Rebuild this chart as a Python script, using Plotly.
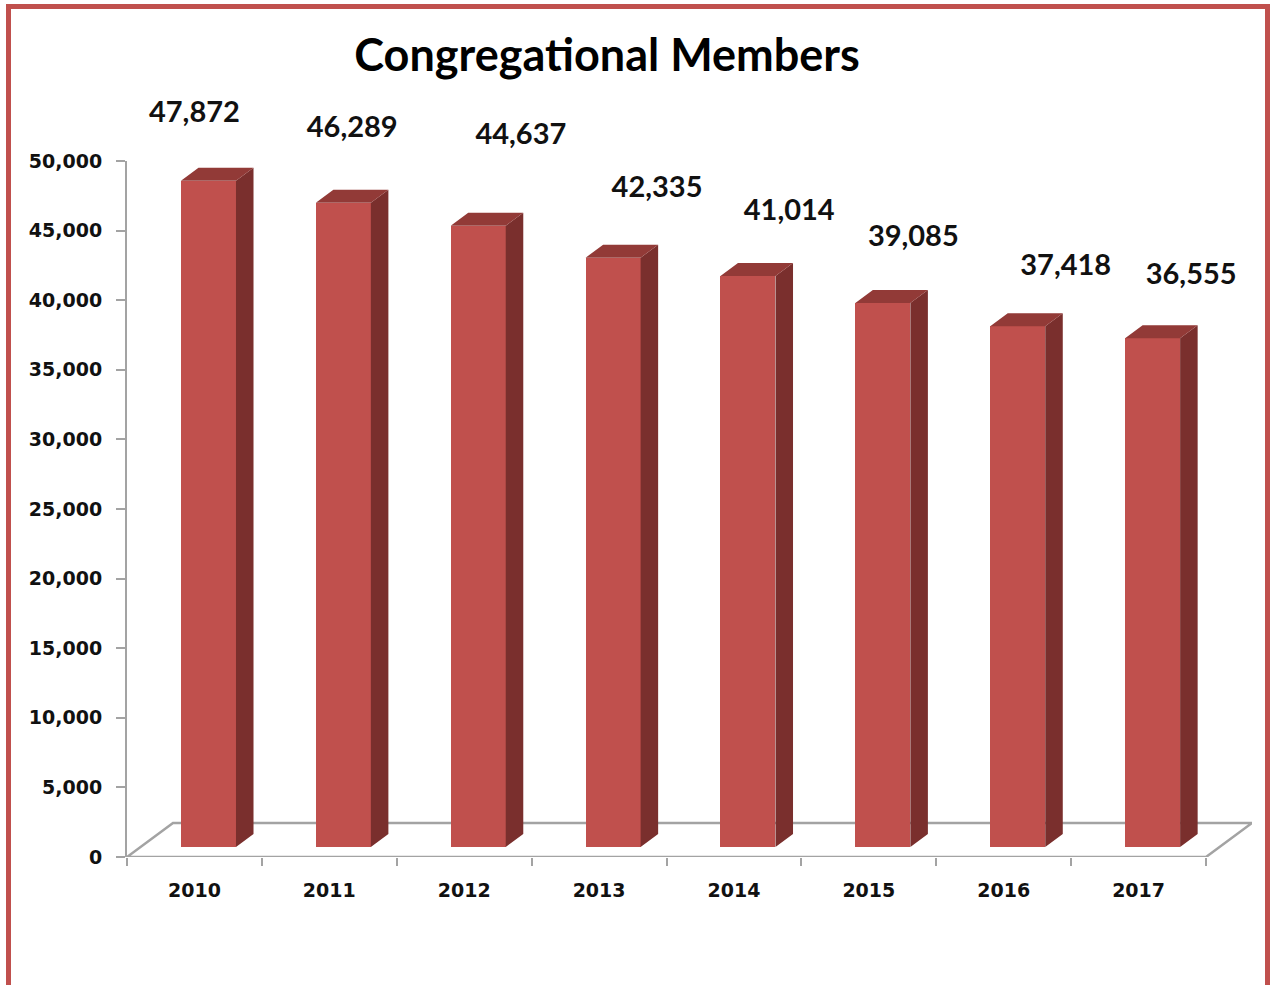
import plotly.graph_objects as go

# Membership counts per year
years = ["2010", "2011", "2012", "2013", "2014", "2015", "2016", "2017"]
members = [47872, 46289, 44637, 42335, 41014, 39085, 37418, 36555]

# Hand-placed label nudges (x in category units, y in members above the bar)
label_dx = [0.00, 0.17, 0.42, 0.43, 0.41, 0.33, 0.46, 0.39]
label_dy = [5450, 5950, 7100, 5600, 5270, 5330, 4910, 5130]

# Pseudo-3D geometry, expressed in axis units
FLOOR_DX, FLOOR_DY = 0.341, 2443     # depth of the floor plane
FRONT_DX, FRONT_DY = 0.104, 718      # bar front face set back from floor edge
BAR_DX, BAR_DY = 0.13, 934           # bar depth
BAR_W = 0.408
Y_MAX = 50000

FRONT = "#C0504D"
TOP = "#923A37"
SIDE = "#7A2F2D"
GREY = "#A3A3A3"

W, H = 1270, 985
L, R, T, B = 127, 18, 80, 128
pw, ph = W - L - R, H - T - B
AXIS_TOP = 161                        # pixel row of the 50,000 tick
y_frac = (H - B - AXIS_TOP) / ph      # share of the plot height used by the value axis

xpos = list(range(len(years)))
centers = [i + FRONT_DX for i in xpos]

fig = go.Figure()

# bar front faces
fig.add_trace(go.Bar(
    x=centers, y=members, base=FRONT_DY, width=BAR_W,
    marker=dict(color=FRONT, line=dict(width=0)),
    showlegend=False, hoverinfo="skip",
))

# top and side faces
top_x, top_y, side_x, side_y = [], [], [], []
for c, v in zip(centers, members):
    left, right = c - BAR_W / 2, c + BAR_W / 2
    t = FRONT_DY + v
    top_x += [left, right, right + BAR_DX, left + BAR_DX, left, None]
    top_y += [t, t, t + BAR_DY, t + BAR_DY, t, None]
    side_x += [right, right, right + BAR_DX, right + BAR_DX, right, None]
    side_y += [FRONT_DY, t, t + BAR_DY, FRONT_DY + BAR_DY, FRONT_DY, None]

fig.add_trace(go.Scatter(x=side_x, y=side_y, fill="toself", fillcolor=SIDE,
                         mode="lines", line=dict(width=0, color=SIDE),
                         hoverinfo="skip", showlegend=False, cliponaxis=False))
fig.add_trace(go.Scatter(x=top_x, y=top_y, fill="toself", fillcolor=TOP,
                         mode="lines", line=dict(width=0, color=TOP),
                         hoverinfo="skip", showlegend=False, cliponaxis=False))

# value labels, on a taller hidden axis sharing the same scale
fig.add_trace(go.Scatter(
    x=[i + d for i, d in zip(xpos, label_dx)],
    y=[v + d for v, d in zip(members, label_dy)],
    text=[f"{v:,}" for v in members],
    mode="text", textposition="middle center",
    textfont=dict(family="Lato", size=29, color="#111111", weight="bold"),
    hoverinfo="skip", showlegend=False, cliponaxis=False, yaxis="y2",
))

# floor outline, drawn beneath the bars
fx0, fx1 = -0.5, len(years) - 0.5
fig.add_shape(
    type="path", xref="x", yref="y", layer="below",
    path=(f"M {fx0},0 L {fx1},0 L {fx1 + FLOOR_DX},{FLOOR_DY} "
          f"L {fx0 + FLOOR_DX},{FLOOR_DY} Z"),
    line=dict(color=GREY, width=2.5), fillcolor="rgba(0,0,0,0)",
)


def px_x(p):
    return (p - L) / pw


def px_y(p):
    return (H - B - p) / ph


# outer frame
fig.add_shape(type="rect", xref="paper", yref="paper",
              x0=px_x(8.5), x1=px_x(1267.5), y0=px_y(995), y1=px_y(6.5),
              line=dict(color="#C0504D", width=5), fillcolor="rgba(0,0,0,0)",
              layer="above")

fig.update_layout(
    width=W, height=H, autosize=False,
    margin=dict(l=L, r=R, t=T, b=B, pad=0),
    paper_bgcolor="white", plot_bgcolor="rgba(0,0,0,0)",
    bargap=0,
    title=dict(text="Congregational Members", x=607 / W, xanchor="center",
               y=1 - 55 / H, yanchor="middle", xref="container", yref="container",
               font=dict(family="Lato", size=45, color="#000000", weight="bold")),
    xaxis=dict(
        anchor="y",
        range=[-0.5, len(years) - 0.5 + FLOOR_DX],
        tickvals=xpos, ticktext=years, ticks="",
        showline=False, showgrid=False, zeroline=False,
        minor=dict(tick0=-0.5, dtick=1, ticks="outside", ticklen=8,
                   tickwidth=1.5, tickcolor=GREY, showgrid=False),
        tickfont=dict(family="DejaVu Sans", size=19, color="#111111", weight="bold"),
        ticklabelstandoff=20,
        fixedrange=True,
    ),
    yaxis=dict(
        domain=[0, y_frac],
        range=[0, Y_MAX], tick0=0, dtick=5000, tickformat=",",
        ticks="outside", ticklen=9, tickwidth=1.5, tickcolor=GREY,
        showline=True, linecolor=GREY, linewidth=2,
        showgrid=False, zeroline=False,
        tickfont=dict(family="DejaVu Sans", size=19, color="#111111", weight="bold"),
        ticklabelstandoff=10,
        fixedrange=True,
    ),
    yaxis2=dict(
        domain=[0, 1], range=[0, Y_MAX / y_frac], anchor="x",
        visible=False, showgrid=False, zeroline=False, fixedrange=True,
    ),
)

fig.write_html("out.html")
